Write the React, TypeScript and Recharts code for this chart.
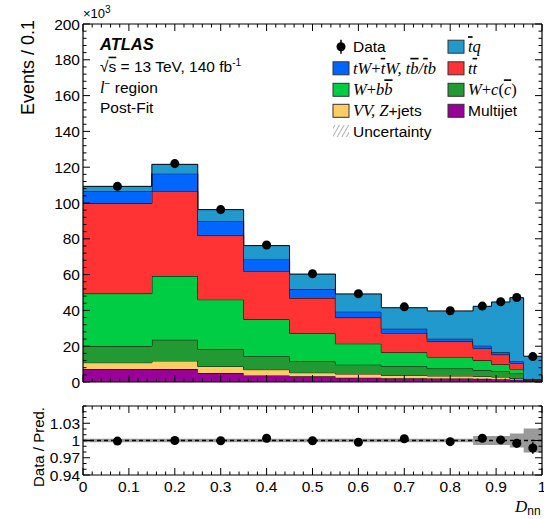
import React from 'react';
import { ComposedChart, Area, Line, Scatter, XAxis, YAxis, ReferenceLine, ErrorBar } from 'recharts';

const SANS = '"Liberation Sans", Arial, Helvetica, sans-serif';
const SERIF = '"Liberation Serif", "Times New Roman", serif';

// D_nn bins (variable width)
const binEdges = [0, 0.15, 0.25, 0.35, 0.45, 0.55, 0.65, 0.75, 0.85, 0.89, 0.93, 0.96, 1.0];
const binCenters = [0.075, 0.2, 0.3, 0.4, 0.5, 0.6, 0.7, 0.8, 0.87, 0.91, 0.945, 0.98];

// post-fit predictions, 10^3 events / 0.1
const multijet = [7.3, 7.2, 5.0, 3.7, 3.2, 2.4, 2.1, 2.0, 1.8, 1.6, 1.3, 0.2];
const vvZjets = [3.5, 4.6, 3.7, 3.2, 2.0, 2.1, 1.6, 1.4, 1.4, 1.2, 0.6, 0.1];
const wcc = [9.3, 11.8, 9.7, 7.5, 6.4, 5.2, 5.1, 4.1, 3.3, 3.2, 2.8, 0.3];
const wbb = [29.3, 35.6, 27.6, 20.6, 15.6, 11.7, 7.8, 6.5, 5.6, 3.9, 2.6, 0.3];
const ttbar = [50.4, 47.5, 35.8, 26.8, 19.7, 14.6, 10.8, 8.6, 6.6, 5.4, 3.3, 0.3];
const tW = [6.9, 9.7, 8.0, 6.7, 5.0, 3.3, 2.4, 1.6, 1.6, 1.3, 1.0, 0.3];
const tq = [2.6, 5.2, 6.5, 7.7, 8.4, 9.9, 11.7, 15.5, 22.0, 28.1, 35.5, 12.9];
const dataEvents = [109.3, 122.0, 96.3, 76.5, 60.5, 49.3, 42.0, 39.8, 42.4, 44.8, 47.2, 14.2];

// ratio panel
const ratioValues = [0.999, 1.0, 0.9995, 1.004, 0.9995, 0.997, 1.003, 0.998, 1.004, 1.001, 0.995, 0.987];
const ratioErrors = [0, 0, 0, 0, 0, 0, 0, 0, 0, 0, 0.002, 0.01];
const ratioUncert = [0.003, 0.003, 0.003, 0.003, 0.003, 0.003, 0.003, 0.003, 0.008, 0.008, 0.012, 0.021];

// ticks
const xMajorTicks = [0, 0.1, 0.2, 0.3, 0.4, 0.5, 0.6, 0.7, 0.8, 0.9, 1];
const xTickLabels = ['0', '0.1', '0.2', '0.3', '0.4', '0.5', '0.6', '0.7', '0.8', '0.9', '1'];
const yMainMajorTicks = [0, 20, 40, 60, 80, 100, 120, 140, 160, 180, 200];
const yMainTickLabels = ['0', '20', '40', '60', '80', '100', '120', '140', '160', '180', '200'];
const ratioMajorTicks = [0.94, 0.97, 1, 1.03];
const ratioTickLabels = ['0.94', '0.97', '1', '1.03'];

const stack = [
  { key: 'multijet', values: multijet, color: '#990099' },
  { key: 'vv', values: vvZjets, color: '#ffcc66' },
  { key: 'wcc', values: wcc, color: '#229933' },
  { key: 'wbb', values: wbb, color: '#00cc44' },
  { key: 'ttbar', values: ttbar, color: '#ff3333' },
  { key: 'tw', values: tW, color: '#0066ff' },
  { key: 'tq', values: tq, color: '#2299cc' },
];
const colorOf = (k: string) => stack.find((s) => s.key === k)!.color;

const lastBin = binCenters.length - 1;
const histRows = binEdges.map((x, i) => {
  const k = Math.min(i, lastBin);
  const row: Record<string, number> = { x };
  stack.forEach((s) => {
    row[s.key] = s.values[k];
  });
  return row;
});
const dataPoints = binCenters.map((x, i) => ({ x, y: dataEvents[i] }));
const ratioPoints = binCenters.map((x, i) => ({ x, y: ratioValues[i], err: ratioErrors[i] }));
const bandRows = binEdges.map((x, i) => {
  const k = Math.min(i, lastBin);
  return { x, band: [1 - ratioUncert[k], 1 + ratioUncert[k]] };
});

const steps = (from: number, to: number, step: number) => {
  const out: number[] = [];
  const n = Math.round((to - from) / step);
  for (let i = 0; i <= n; i++) out.push(Math.round((from + i * step) * 1e6) / 1e6);
  return out;
};
const xAllTicks = steps(0, 1, 0.02);
const yMainAllTicks = steps(0, 200, 4);
const ratioAllTicks = steps(0.94, 1.06, 0.01);

type Side = 'bottom' | 'top' | 'left' | 'right';
const makeTick = (side: Side, majors: number[], labels?: string[]) => (props: any) => {
  const { x, y, payload } = props;
  const idx = majors.findIndex((m) => Math.abs(m - payload.value) < 1e-6);
  const len = idx >= 0 ? 7 : 3.5;
  let x2 = x;
  let y2 = y;
  if (side === 'bottom') y2 = y - len;
  if (side === 'top') y2 = y + len;
  if (side === 'left') x2 = x + len;
  if (side === 'right') x2 = x - len;
  const label = labels && idx >= 0 ? labels[idx] : null;
  return (
    <g>
      <line x1={x} y1={y} x2={x2} y2={y2} stroke="#000" strokeWidth={1} />
      {label !== null && side === 'left' && (
        <text x={x - 3} y={y + 5.5} textAnchor="end" fontSize={15.5} fontFamily={SANS} fill="#000">
          {label}
        </text>
      )}
      {label !== null && side === 'bottom' && (
        <text x={x} y={y + 17} textAnchor="middle" fontSize={15.5} fontFamily={SANS} fill="#000">
          {label}
        </text>
      )}
    </g>
  );
};

type Seg = [string, 'm' | 'mb' | 'r' | 's'];
const legendItems: { label: Seg[]; kind: string; col: number; row: number }[] = [
  { label: [['Data', 's']], kind: 'data', col: 0, row: 0 },
  { label: [['t', 'mb'], ['q', 'm']], kind: 'tq', col: 1, row: 0 },
  {
    label: [['tW', 'm'], ['+', 'r'], ['t', 'mb'], ['W, t', 'm'], ['b', 'mb'], ['/', 'm'], ['t', 'mb'], ['b', 'm']],
    kind: 'tw',
    col: 0,
    row: 1,
  },
  { label: [['t', 'm'], ['t', 'mb']], kind: 'ttbar', col: 1, row: 1 },
  { label: [['W', 'm'], ['+', 'r'], ['b', 'm'], ['b', 'mb']], kind: 'wbb', col: 0, row: 2 },
  { label: [['W', 'm'], ['+', 'r'], ['c', 'm'], ['(', 'r'], ['c', 'mb'], [')', 'r']], kind: 'wcc', col: 1, row: 2 },
  { label: [['VV, Z', 'm'], ['+jets', 's']], kind: 'vv', col: 0, row: 3 },
  { label: [['Multijet', 's']], kind: 'multijet', col: 1, row: 3 },
  { label: [['Uncertainty', 's']], kind: 'unc', col: 0, row: 4 },
];
const legendColX = [333, 448];
const legendRowY = [46.7, 68.3, 89.8, 110.8, 131];

const segStyle = (t: Seg[1]): React.CSSProperties => {
  if (t === 's') return { fontFamily: SANS, fontSize: 15.5 };
  if (t === 'r') return { fontFamily: SERIF, fontSize: 16.5 };
  return {
    fontFamily: SERIF,
    fontSize: 16.5,
    fontStyle: 'italic',
    textDecoration: t === 'mb' ? 'overline' : undefined,
  };
};

const Overlay = () => (
  <svg width={544} height={519} style={{ position: 'absolute', left: 0, top: 0, pointerEvents: 'none' }}>
    <defs>
      <pattern id="hatch" width="4" height="4" patternUnits="userSpaceOnUse" patternTransform="rotate(30)">
        <line x1="0" y1="0" x2="0" y2="4" stroke="#666" strokeWidth="1" />
      </pattern>
    </defs>
    <text x={34} y={20} transform="rotate(-90 34 20)" textAnchor="end" fontSize={18} fontFamily={SANS}>
      Events / 0.1
    </text>
    <text x={83} y={18} fontSize={13} fontFamily={SANS}>
      ×10<tspan dy={-5} fontSize={10}>3</tspan>
    </text>
    <text x={100} y={50} fontSize={16.5} fontFamily={SANS} fontWeight="bold" fontStyle="italic">
      ATLAS
    </text>
    <text x={100} y={71.7} fontSize={15.5} fontFamily={SANS}>
      √<tspan textDecoration="overline">s</tspan> = 13 TeV, 140 fb<tspan dy={-6} fontSize={10}>-1</tspan>
    </text>
    <text x={100} y={92.7} fontSize={15.5} fontFamily={SANS}>
      <tspan fontFamily={SERIF} fontStyle="italic" fontSize={16.5}>l</tspan>
      <tspan dy={-6} fontSize={10}>−</tspan>
      <tspan dy={6}> region</tspan>
    </text>
    <text x={100} y={113.3} fontSize={15.5} fontFamily={SANS}>
      Post-Fit
    </text>
    {legendItems.map((it, i) => {
      const bx = legendColX[it.col];
      const cy = legendRowY[it.row];
      let marker: React.ReactNode;
      if (it.kind === 'data') {
        marker = (
          <g>
            <line x1={bx + 8} y1={cy - 7} x2={bx + 8} y2={cy + 7} stroke="#000" strokeWidth={1.5} />
            <circle cx={bx + 8} cy={cy} r={4.5} fill="#000" />
          </g>
        );
      } else if (it.kind === 'unc') {
        marker = <rect x={bx} y={cy - 6} width={16} height={12} fill="url(#hatch)" />;
      } else {
        marker = <rect x={bx} y={cy - 6.5} width={16} height={13} fill={colorOf(it.kind)} stroke="#333" strokeWidth={1} />;
      }
      return (
        <g key={i}>
          {marker}
          <text x={bx + 20} y={cy + 5.5} fill="#000">
            {it.label.map((s, j) => (
              <tspan key={j} style={segStyle(s[1])}>
                {s[0]}
              </tspan>
            ))}
          </text>
        </g>
      );
    })}
    <text x={44} y={407} transform="rotate(-90 44 407)" textAnchor="end" fontSize={15} fontFamily={SANS}>
      Data / Pred.
    </text>
    <text x={515} y={512} fontSize={17} fontFamily={SERIF} fontStyle="italic">
      D
      <tspan dy={3} fontSize={12} fontFamily={SANS} fontStyle="normal">
        nn
      </tspan>
    </text>
  </svg>
);

const frameLine = { stroke: '#000', strokeWidth: 1.2 };

// axes for a frame with inside ticks on all four sides; drawn in a chart layered above the fills
const FrameAxes = (opts: {
  yDomain: [number, number];
  yTicks: number[];
  yMajors: number[];
  yLabels: string[];
  xLabels?: string[];
  bottomHeight: number;
}) => [
  <XAxis
    key="xb"
    dataKey="x"
    type="number"
    domain={[0, 1]}
    allowDataOverflow
    ticks={xAllTicks}
    interval={0}
    height={opts.bottomHeight}
    tickSize={0}
    tickMargin={0}
    tickLine={false}
    tick={makeTick('bottom', xMajorTicks, opts.xLabels)}
    axisLine={frameLine}
  />,
  <XAxis
    key="xt"
    xAxisId="top"
    orientation="top"
    dataKey="x"
    type="number"
    domain={[0, 1]}
    allowDataOverflow
    ticks={xAllTicks}
    interval={0}
    height={1}
    tickSize={0}
    tickMargin={0}
    tickLine={false}
    tick={makeTick('top', xMajorTicks)}
    axisLine={frameLine}
  />,
  <YAxis
    key="yl"
    type="number"
    domain={opts.yDomain}
    allowDataOverflow
    ticks={opts.yTicks}
    interval={0}
    width={83}
    tickSize={0}
    tickMargin={0}
    tickLine={false}
    tick={makeTick('left', opts.yMajors, opts.yLabels)}
    axisLine={frameLine}
  />,
  <YAxis
    key="yr"
    yAxisId="right"
    orientation="right"
    type="number"
    domain={opts.yDomain}
    allowDataOverflow
    ticks={opts.yTicks}
    interval={0}
    width={1}
    tickSize={0}
    tickMargin={0}
    tickLine={false}
    tick={makeTick('right', opts.yMajors)}
    axisLine={frameLine}
  />,
];

const HiddenAxes = (yDomain: [number, number], bottomHeight: number) => [
  <XAxis
    key="xb"
    dataKey="x"
    type="number"
    domain={[0, 1]}
    allowDataOverflow
    height={bottomHeight}
    tick={false}
    tickLine={false}
    axisLine={false}
  />,
  <YAxis key="yl" type="number" domain={yDomain} allowDataOverflow width={83} tick={false} tickLine={false} axisLine={false} />,
];

const layer: React.CSSProperties = { position: 'absolute', left: 0 };

export default function App() {
  return (
    <div style={{ position: 'absolute', left: 0, top: 0, width: 544, height: 519, background: '#fff' }}>
      {/* main panel: stacked histogram */}
      <div style={{ ...layer, top: 0 }}>
        <ComposedChart width={544} height={400} data={histRows} margin={{ top: 24, right: 2, bottom: 17, left: 0 }}>
          {HiddenAxes([0, 200], 1)}
          {stack.map((s) => (
            <Area
              key={s.key}
              dataKey={s.key}
              stackId="s"
              type="stepAfter"
              fill={s.color}
              fillOpacity={1}
              stroke="#000"
              strokeWidth={1}
              dot={false}
              activeDot={false}
              isAnimationActive={false}
            />
          ))}
        </ComposedChart>
      </div>
      <div style={{ ...layer, top: 0 }}>
        <ComposedChart width={544} height={400} data={histRows} margin={{ top: 23, right: 1, bottom: 17, left: 0 }}>
          {FrameAxes({
            yDomain: [0, 200],
            yTicks: yMainAllTicks,
            yMajors: yMainMajorTicks,
            yLabels: yMainTickLabels,
            bottomHeight: 1,
          })}
          <Line
            dataKey="tq"
            xAxisId="top"
            yAxisId="right"
            stroke="none"
            dot={false}
            activeDot={false}
            legendType="none"
            isAnimationActive={false}
          />
          <Scatter data={dataPoints} dataKey="y" fill="#000" isAnimationActive={false} />
        </ComposedChart>
      </div>

      {/* ratio panel */}
      <div style={{ ...layer, top: 390 }}>
        <ComposedChart width={544} height={129} data={bandRows} margin={{ top: 16, right: 2, bottom: 20, left: 0 }}>
          {HiddenAxes([0.94, 1.06], 24)}
          <Area
            dataKey="band"
            type="stepAfter"
            fill="#9a9a9a"
            fillOpacity={1}
            stroke="none"
            dot={false}
            activeDot={false}
            isAnimationActive={false}
          />
        </ComposedChart>
      </div>
      <div style={{ ...layer, top: 390 }}>
        <ComposedChart width={544} height={129} data={bandRows} margin={{ top: 15, right: 1, bottom: 20, left: 0 }}>
          {FrameAxes({
            yDomain: [0.94, 1.06],
            yTicks: ratioAllTicks,
            yMajors: ratioMajorTicks,
            yLabels: ratioTickLabels,
            xLabels: xTickLabels,
            bottomHeight: 24,
          })}
          <Line
            dataKey={() => 1}
            xAxisId="top"
            yAxisId="right"
            stroke="none"
            dot={false}
            activeDot={false}
            legendType="none"
            isAnimationActive={false}
          />
          <ReferenceLine y={1} stroke="#000" strokeWidth={1.5} strokeDasharray="4 3" />
          <Scatter data={ratioPoints} dataKey="y" fill="#000" isAnimationActive={false}>
            <ErrorBar dataKey="err" direction="y" width={0} stroke="#000" strokeWidth={1.5} />
          </Scatter>
        </ComposedChart>
      </div>
      <Overlay />
    </div>
  );
}
